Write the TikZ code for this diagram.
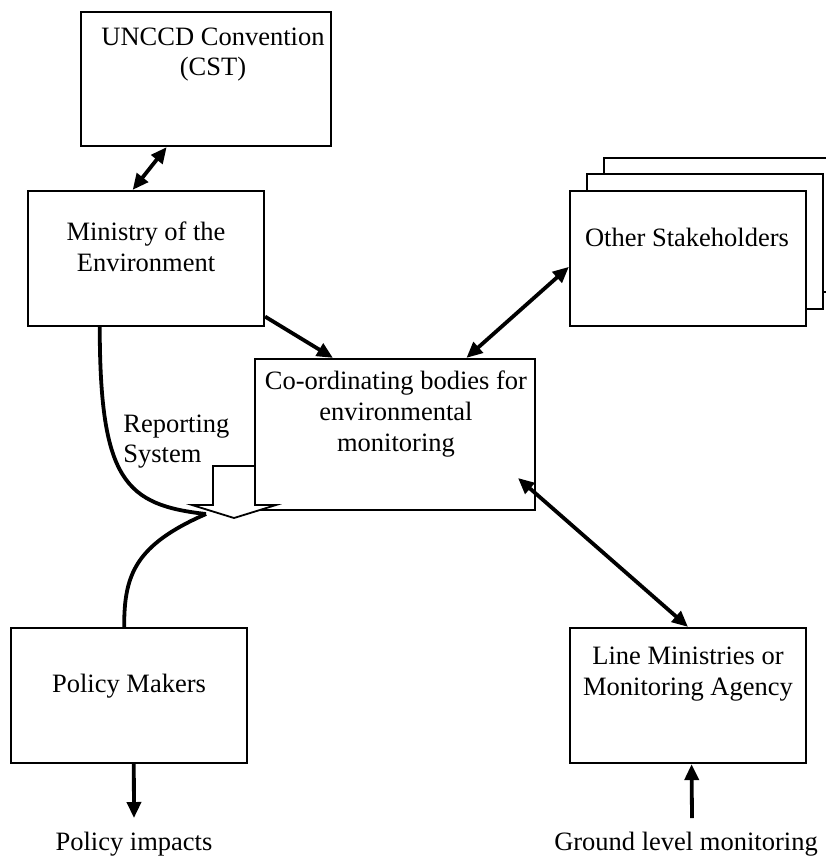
\documentclass[tikz,border=0pt]{standalone}
\usepackage{fontspec}
\setmainfont{Liberation Serif}
\usetikzlibrary{arrows.meta,fit,calc}
\begin{document}
\begin{tikzpicture}[x=0.5pt,y=-0.5pt,
  box/.style={draw,line width=1.1pt,fill=white,inner sep=0pt,rectangle},
  lbl/.style={inner sep=0pt,font=\fontsize{13.25}{15.5}\selectfont,anchor=base},
  conn/.style={line width=1.9pt},
  tip/.style={-{Triangle[length=8pt,width=7pt]}},
  dtip/.style={{Triangle[length=8pt,width=7pt]}-{Triangle[length=8pt,width=7pt]}},
  blockarrow/.style={draw,line width=0.9pt,fill=white,line join=miter}
]
\useasboundingbox (0,0) rectangle (826,859);

% boxes
\node[box,fit={(81,12)(331,146)}] (unccd) {};
\node[box,fit={(28,191)(264,326)}] (ministry) {};
\node[box,fit={(604,158)(840,292)}] (stake3) {};
\node[box,fit={(587,174)(823,309)}] (stake2) {};
\node[box,fit={(570,191)(806,326)}] (stake) {};
\node[box,fit={(255,359)(535,510)}] (coord) {};
\node[box,fit={(11,628)(247,763)}] (policy) {};
\node[box,fit={(570,628)(806,763)}] (line) {};

% texts
\node[lbl] (unccdA) at (213,45) {UNCCD Convention};
\node[lbl] (unccdB) at (213,75) {(CST)};
\node[lbl] (minA) at (146,240) {Ministry of the};
\node[lbl] (minB) at (146,271) {Environment};
\node[lbl] (stakeA) at (687,246) {Other Stakeholders};
\node[lbl] (coordA) at (396,389) {Co-ordinating bodies for};
\node[lbl] (coordB) at (396,420) {environmental};
\node[lbl] (coordC) at (396,451) {monitoring};
\node[lbl,anchor=base west] (repA) at (123,432) {Reporting};
\node[lbl,anchor=base west] (repB) at (123,462) {System};
\node[lbl] (polA) at (129,692) {Policy Makers};
\node[lbl] (lineA) at (688,664) {Line Ministries or};
\node[lbl] (lineB) at (688,695) {Monitoring Agency};
\node[lbl] (impact) at (134,850) {Policy impacts};
\node[lbl] (ground) at (686,850) {Ground level monitoring};

% free ends
\coordinate (impEnd) at (134,818);
\coordinate (gndStart) at (692,818);
\coordinate (coordIn) at (518,478);
\coordinate (meet) at (206,514);

% connectors
\draw[conn,dtip] (unccd.240) -- (ministry.101);
\draw[conn,tip] (ministry.-26) -- (coord.129);
\draw[conn,dtip] (stake.184) -- (coord.47);
\draw[conn,dtip] (coordIn) -- (line.north);
\draw[conn,tip] (policy.-86) -- (impEnd);
\draw[conn,tip] (gndStart) -- (line.-87);

% reporting curves
\draw[conn] (ministry.236) .. controls (100,480) and (125,505) .. (meet);
\draw[conn] (policy.94) .. controls (124,575) and (135,545) .. (meet);

% hollow block arrow
\draw[blockarrow] (213,466) -- (255,466) -- (255,505) -- (276,505) -- (234,518) -- (192,505) -- (213,505) -- cycle;
\end{tikzpicture}
\end{document}
